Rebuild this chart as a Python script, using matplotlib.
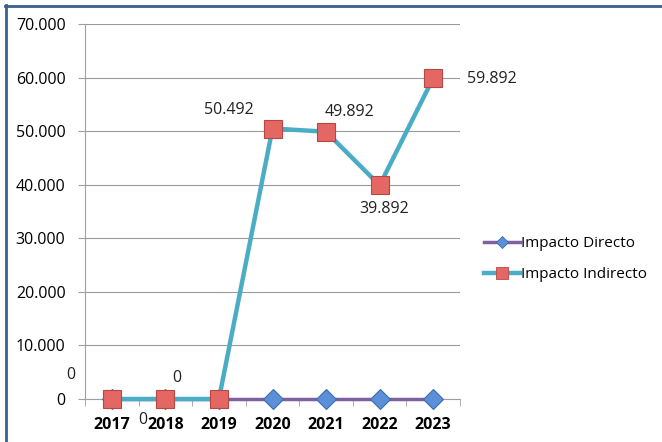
import numpy as np
import matplotlib.pyplot as plt
from matplotlib.lines import Line2D

years = ['2017', '2018', '2019', '2020', '2021', '2022', '2023']
impacto_directo = [0, 0, 0, 0, 0, 0, 0]
impacto_indirecto = [0, 0, 0, 50492, 49892, 39892, 59892]
y_ticks = [0, 10000, 20000, 30000, 40000, 50000, 60000, 70000]

# data labels: (series, point index, text, offset in points)
labels = [
    (impacto_indirecto, 0, '0', (-29.5, 17)),
    (impacto_indirecto, 1, '0', (8, 15)),
    (impacto_directo, 1, '0', (-16, -15)),
    (impacto_indirecto, 3, '50.492', (-31.5, 13)),
    (impacto_indirecto, 4, '49.892', (17, 14.5)),
    (impacto_indirecto, 5, '39.892', (3.5, -17)),
    (impacto_indirecto, 6, '59.892', (42, -0.7)),
]

def fmt(v):
    return f"{v:,.0f}".replace(",", ".")

plt.rcParams['font.family'] = ['Open Sans', 'DejaVu Sans']
fs = 11.5

fig = plt.figure(figsize=(6.62, 4.42), dpi=100)
ax = fig.add_axes([85 / 662, 43 / 442, 375 / 662, 375 / 442])

x = np.arange(len(years))
purple = '#7F60A0'
teal = '#4BACC6'

ax.plot(x, impacto_directo, color=purple, lw=2.5, marker='D', ms=10,
        mfc='#5B8FD8', mec='#3D6DB0', mew=0.8, zorder=3, clip_on=False)
ax.plot(x, impacto_indirecto, color=teal, lw=3.2, marker='s', ms=12.5,
        mfc='#E46764', mec='#B84744', mew=0.8, zorder=4, clip_on=False)

for series, i, txt, off in labels:
    ax.annotate(txt, (x[i], series[i]), xytext=off, textcoords='offset points',
                ha='center', va='center', fontsize=fs, color='#222222')

ax.set_xlim(-0.5, len(years) - 0.5)
ax.set_ylim(0, 70000)
ax.set_yticks(y_ticks)
ax.set_yticklabels([fmt(v) for v in y_ticks], fontsize=fs)
ax.set_xticks(x)
ax.set_xticklabels(years, fontsize=fs, fontweight='bold')
ax.tick_params(axis='x', length=0, pad=13)
ax.tick_params(axis='y', length=5, color='#A0A0A0', pad=9)
ax.set_xticks(np.arange(-0.5, len(years)), minor=True)
ax.tick_params(axis='x', which='minor', length=5, color='#A0A0A0')

ax.grid(axis='y', color='#9A9A9A', lw=0.8)
ax.set_axisbelow(True)
for s in ['top', 'right']:
    ax.spines[s].set_visible(False)
ax.spines['left'].set_color('#A0A0A0')
ax.spines['bottom'].set_color('#A0A0A0')

handles = [
    Line2D([], [], color=purple, lw=2.5, marker='D', ms=6.5, mfc='#5B8FD8', mec='#3D6DB0', mew=0.6),
    Line2D([], [], color=teal, lw=3.2, marker='s', ms=8, mfc='#E46764', mec='#B84744', mew=0.6),
]
fig.legend(handles, ['Impacto Directo', 'Impacto Indirecto'], loc='center left',
           bbox_to_anchor=(470 / 662, 1 - 259 / 442), frameon=False, fontsize=11,
           handlelength=2.4, handletextpad=0.05, labelspacing=1.05)

# chart frame (only top and left visible in the crop)
fig.add_artist(Line2D([5 / 662, 1], [1 - 5.5 / 442] * 2, color='#3A5F8C', lw=2, transform=fig.transFigure))
fig.add_artist(Line2D([5.5 / 662] * 2, [0, 1 - 5 / 442], color='#3A5F8C', lw=2, transform=fig.transFigure))

fig.savefig('out.png', dpi=100)
